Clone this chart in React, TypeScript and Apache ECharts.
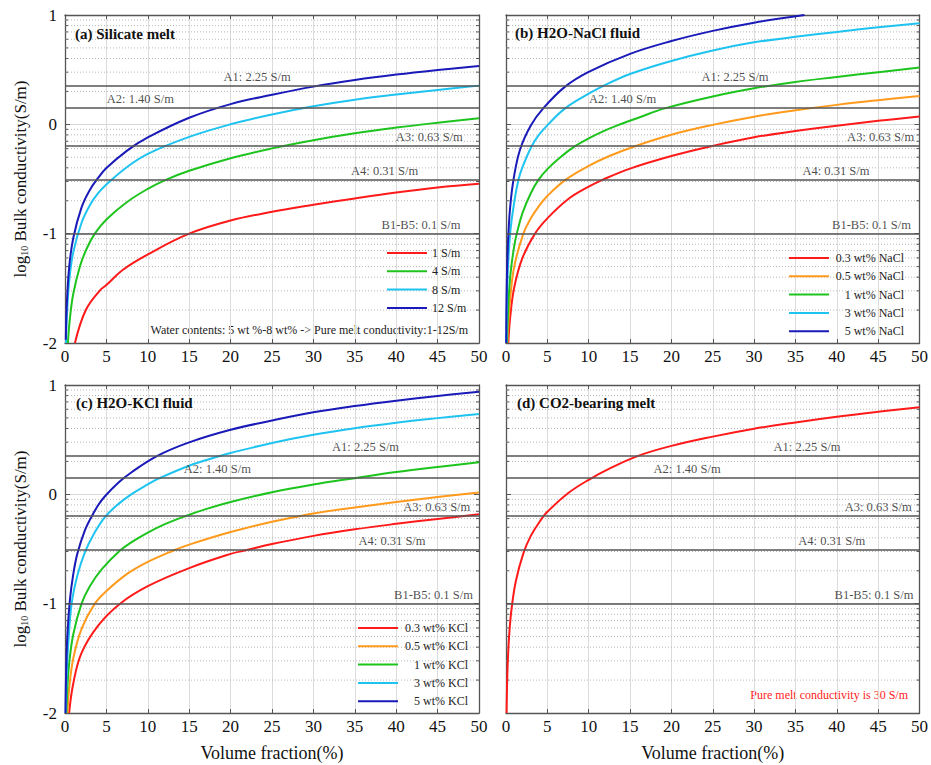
import React, { useEffect, useRef } from 'react';
import * as echarts from 'echarts';

const FONT = "'Liberation Serif', 'Times New Roman', serif";

// ---------- axes ----------
const X_MIN = 0;
const X_MAX = 50;
const X_INTERVAL = 5;
const Y_MIN = -2;
const Y_MAX = 1;
const Y_INTERVAL = 1;

const panelTitles = ['(a) Silicate melt', '(b) H2O-NaCl fluid', '(c) H2O-KCl fluid', '(d) CO2-bearing melt'];
const yAxisName = '{n|log}{s|10}{n| Bulk conductivity(S/m)}';
const xAxisName = 'Volume fraction(%)';

// reference conductivities (S/m) and their labels
const refConductivities = [2.25, 1.4, 0.63, 0.31, 0.1];
const refLabels = ['A1: 2.25 S/m', 'A2: 1.40 S/m', 'A3: 0.63 S/m', 'A4: 0.31 S/m', 'B1-B5: 0.1 S/m'];

// log-style minor ticks of the log10 axis
const minorDecades = [-2, -1, 0];
const minorMultipliers = [2, 3, 4, 5, 6, 7, 8, 9];

// ---------- data: [volume fraction %, log10 bulk conductivity] ----------
// (a) Silicate melt
const silicateNames = ['1 S/m', '4 S/m', '8 S/m', '12 S/m'];
const silicate1 = [[1.2, -2.0], [2.5, -1.7], [4.2, -1.52], [5, -1.47], [7, -1.33], [10, -1.19], [15, -1.0], [20, -0.88], [25, -0.8], [30, -0.736], [35, -0.678], [40, -0.624], [45, -0.578], [50, -0.544]];
const silicate4 = [[0.35, -2.0], [0.6, -1.77], [1, -1.55], [1.8, -1.3], [2.6, -1.14], [3.6, -1.0], [5, -0.87], [7.5, -0.71], [10, -0.59], [12.1, -0.51], [15, -0.425], [20, -0.31], [25, -0.22], [30, -0.145], [35, -0.082], [40, -0.03], [45, 0.015], [50, 0.056]];
const silicate8 = [[0.12, -2.0], [0.2, -1.8], [0.5, -1.44], [1, -1.17], [2, -0.9], [3, -0.74], [4, -0.63], [5, -0.55], [7.5, -0.39], [10, -0.27], [15, -0.115], [20, 0.0], [25, 0.09], [30, 0.165], [35, 0.225], [40, 0.272], [45, 0.315], [50, 0.354]];
const silicate12 = [[0.1, -1.97], [0.2, -1.68], [0.5, -1.31], [1, -1.04], [2, -0.76], [3, -0.6], [4, -0.49], [5, -0.4], [7.5, -0.24], [10, -0.12], [15, 0.06], [20, 0.185], [25, 0.27], [30, 0.345], [35, 0.405], [40, 0.455], [45, 0.497], [50, 0.534]];

// (b) H2O-NaCl fluid
const naclNames = ['0.3 wt% NaCl', '0.5 wt% NaCl', '1 wt% NaCl', '3 wt% NaCl', '5 wt% NaCl'];
const nacl03 = [[0.28, -2.0], [0.5, -1.77], [1, -1.49], [2, -1.22], [3.5, -1.0], [5, -0.86], [7.5, -0.685], [10, -0.57], [11.6, -0.51], [15, -0.405], [20, -0.29], [24.8, -0.2], [30, -0.118], [35, -0.062], [40, -0.012], [45, 0.032], [50, 0.071]];
const nacl05 = [[0.18, -2.0], [0.3, -1.8], [0.5, -1.6], [1, -1.3], [2.1, -1.0], [3, -0.86], [4, -0.745], [5, -0.655], [7.15, -0.51], [10, -0.38], [12.5, -0.29], [15.6, -0.2], [20, -0.095], [25, -0.005], [30, 0.07], [35, 0.128], [40, 0.178], [45, 0.221], [50, 0.26]];
const nacl1 = [[0.12, -2.0], [0.2, -1.8], [0.5, -1.4], [1, -1.11], [1.3, -1.0], [2, -0.81], [3, -0.63], [3.9, -0.51], [5, -0.41], [6.5, -0.305], [8.35, -0.2], [10, -0.128], [12, -0.055], [14, 0.005], [16, 0.06], [19.2, 0.146], [25, 0.255], [30, 0.33], [35, 0.388], [40, 0.433], [45, 0.477], [50, 0.519]];
const nacl3 = [[0.045, -2.0], [0.1, -1.67], [0.2, -1.38], [0.5, -1.0], [1, -0.71], [1.5, -0.51], [2, -0.39], [3.1, -0.2], [4, -0.095], [5.1, 0.0], [7.15, 0.146], [10, 0.28], [11.6, 0.345], [15, 0.46], [20, 0.58], [25, 0.676], [30, 0.75], [35, 0.8], [40, 0.845], [45, 0.887], [50, 0.924]];
const nacl5 = [[0.025, -2.0], [0.05, -1.72], [0.1, -1.44], [0.2, -1.16], [0.3, -0.99], [0.5, -0.76], [0.9, -0.51], [1.7, -0.23], [3, -0.01], [4.5, 0.146], [7.15, 0.345], [10, 0.48], [15, 0.645], [20, 0.762], [25, 0.855], [30, 0.93], [36.1, 1.0]];

// (c) H2O-KCl fluid
const kclNames = ['0.3 wt% KCl', '0.5 wt% KCl', '1 wt% KCl', '3 wt% KCl', '5 wt% KCl'];
const kcl03 = [[0.5, -2.0], [1, -1.73], [2, -1.45], [4, -1.2], [6.65, -1.0], [10, -0.84], [15, -0.675], [20, -0.545], [21.7, -0.514], [25, -0.455], [30, -0.38], [35, -0.32], [40, -0.27], [45, -0.225], [50, -0.182]];
const kcl05 = [[0.3, -2.0], [0.5, -1.78], [1, -1.5], [2, -1.23], [3.6, -1.0], [5, -0.885], [7.5, -0.728], [10, -0.618], [13.1, -0.514], [15, -0.46], [20, -0.345], [25, -0.25], [28, -0.205], [30, -0.175], [35, -0.12], [40, -0.07], [45, -0.025], [50, 0.016]];
const kcl1 = [[0.16, -2.0], [0.3, -1.75], [0.5, -1.55], [1, -1.28], [2, -1.0], [3, -0.84], [4.5, -0.68], [6.65, -0.514], [8, -0.44], [10, -0.35], [12, -0.275], [14.5, -0.2], [17, -0.135], [20, -0.07], [25, 0.02], [30, 0.09], [35, 0.148], [40, 0.204], [45, 0.25], [50, 0.293]];
const kcl3 = [[0.09, -2.0], [0.2, -1.65], [0.4, -1.36], [0.8, -1.0], [1.5, -0.74], [2.4, -0.53], [3.5, -0.36], [4.8, -0.21], [6.5, -0.085], [8, 0.0], [10, 0.092], [11.1, 0.137], [15, 0.262], [18.7, 0.35], [20, 0.378], [25, 0.47], [30, 0.545], [35, 0.605], [40, 0.655], [45, 0.697], [50, 0.735]];
const kcl5 = [[0.06, -2.0], [0.1, -1.76], [0.2, -1.45], [0.3, -1.27], [0.6, -0.96], [1, -0.73], [1.5, -0.54], [2.4, -0.33], [3.1, -0.22], [4, -0.1], [4.8, -0.02], [6.5, 0.11], [8, 0.2], [11.1, 0.35], [15, 0.475], [20, 0.59], [25, 0.675], [30, 0.75], [35, 0.808], [40, 0.857], [45, 0.9], [50, 0.939]];

// (d) CO2-bearing melt
const co2Names = ['30 S/m'];
const co2Melt = [[0.07, -2.0], [0.1, -1.85], [0.2, -1.56], [0.4, -1.27], [0.7, -1.03], [1.2, -0.79], [2.1, -0.54], [3, -0.38], [4.3, -0.225], [5, -0.16], [7.5, 0.01], [10, 0.133], [12.5, 0.235], [15.9, 0.35], [20, 0.443], [25, 0.528], [30, 0.6], [35, 0.658], [40, 0.71], [45, 0.755], [50, 0.796]];

const annotationA = 'Water contents: 5 wt %-8 wt% -> Pure melt conductivity:1-12S/m';
const annotationD = 'Pure melt conductivity is 30 S/m';

// ---------- styles / layout ----------
const RED = '#ff1a1a';
const ORANGE = '#ff9a1c';
const GREEN = '#1ec41e';
const CYAN = '#1ec3f0';
const BLUE = '#1a1ab8';
const AXIS_COLOR = '#555555';

const GRIDS = [
  { left: 65, top: 15, width: 414, height: 328 },
  { left: 506, top: 15, width: 415, height: 328 },
  { left: 65, top: 385, width: 414, height: 328 },
  { left: 506, top: 385, width: 415, height: 328 },
];
const TITLE_POS = [
  { left: 75, top: 26 },
  { left: 515, top: 25 },
  { left: 76, top: 395 },
  { left: 517, top: 395 },
];
// x positions (data units) where the reference labels are centred
const LABEL_X = [
  [23.2, 9.1, 44, 38.6, 43],
  [27.7, 14.1, 45.3, 39.9, 44.2],
  [36.3, 18.4, 44.9, 39.5, 44.5],
  [36.4, 21.9, 45, 39.4, 44.5],
];
const LEGEND_POS: any[] = [
  { left: 387, top: 246, textWidth: 0 },
  { left: 789, top: 251, textWidth: 70 },
  { left: 358, top: 621, textWidth: 65 },
  null,
];

const panels = [
  { names: silicateNames, data: [silicate1, silicate4, silicate8, silicate12], colors: [RED, GREEN, CYAN, BLUE] },
  { names: naclNames, data: [nacl03, nacl05, nacl1, nacl3, nacl5], colors: [RED, ORANGE, GREEN, CYAN, BLUE] },
  { names: kclNames, data: [kcl03, kcl05, kcl1, kcl3, kcl5], colors: [RED, ORANGE, GREEN, CYAN, BLUE] },
  { names: co2Names, data: [co2Melt], colors: [RED] },
];

function buildOption() {
  const refValues = refConductivities.map((c) => Math.log10(c));
  const minorValues: number[] = [];
  minorDecades.forEach((d) => minorMultipliers.forEach((m) => minorValues.push(d + Math.log10(m))));

  const xAxis: any[] = [];
  const yAxis: any[] = [];
  const series: any[] = [];
  const legend: any[] = [];
  const title: any[] = [];

  panels.forEach((p, i) => {
    const bottomRow = i >= 2;
    const leftCol = i % 2 === 0;
    xAxis.push({
      type: 'value', gridIndex: i, min: X_MIN, max: X_MAX, interval: X_INTERVAL, position: 'bottom',
      axisLine: { show: true, onZero: false, lineStyle: { color: AXIS_COLOR, width: 1.3 } },
      axisTick: { show: true, inside: true, length: 4, lineStyle: { color: AXIS_COLOR } },
      axisLabel: { show: true, margin: 5, fontFamily: FONT, fontSize: 17, color: '#111' },
      splitLine: { show: true, lineStyle: { color: '#dcdcdc', width: 1 } },
      name: bottomRow ? xAxisName : '', nameLocation: 'middle', nameGap: 31,
      nameTextStyle: { fontFamily: FONT, fontSize: 18, color: '#111' },
    });
    xAxis.push({
      type: 'value', gridIndex: i, min: X_MIN, max: X_MAX, interval: X_INTERVAL, position: 'top',
      axisLine: { show: true, onZero: false, lineStyle: { color: AXIS_COLOR, width: 1.3 } },
      axisTick: { show: true, inside: true, length: 4, lineStyle: { color: AXIS_COLOR } },
      axisLabel: { show: false }, splitLine: { show: false },
    });
    yAxis.push({
      type: 'value', gridIndex: i, min: Y_MIN, max: Y_MAX, interval: Y_INTERVAL, position: 'left',
      axisLine: { show: true, onZero: false, lineStyle: { color: AXIS_COLOR, width: 1.3 } },
      axisTick: { show: true, inside: true, length: 5, lineStyle: { color: AXIS_COLOR } },
      axisLabel: { show: leftCol, margin: 8, fontFamily: FONT, fontSize: 17, color: '#111' },
      splitLine: { show: true, lineStyle: { color: '#d8d8d8', width: 1 } },
      name: leftCol ? yAxisName : '', nameLocation: 'middle', nameGap: 36, nameRotate: 90,
      nameTextStyle: {
        fontFamily: FONT, fontSize: 17, color: '#111',
        rich: {
          n: { fontFamily: FONT, fontSize: 17, color: '#111', verticalAlign: 'bottom', lineHeight: 20 },
          s: { fontFamily: FONT, fontSize: 10, color: '#111', verticalAlign: 'bottom', lineHeight: 16 },
        },
      },
    });
    yAxis.push({
      type: 'value', gridIndex: i, min: Y_MIN, max: Y_MAX, interval: Y_INTERVAL, position: 'right',
      axisLine: { show: true, onZero: false, lineStyle: { color: AXIS_COLOR, width: 1.3 } },
      axisTick: { show: true, inside: true, length: 5, lineStyle: { color: AXIS_COLOR } },
      axisLabel: { show: false }, splitLine: { show: false },
    });

    // minor log-style gridlines and ticks
    series.push({
      type: 'custom', xAxisIndex: 2 * i, yAxisIndex: 2 * i, silent: true, z: 1,
      data: minorValues.map((v) => [X_MIN, v]),
      encode: { x: 0, y: 1 },
      renderItem: (_params: any, api: any) => {
        const y = api.value(1);
        const a = api.coord([X_MIN, y]);
        const b = api.coord([X_MAX, y]);
        return {
          type: 'group',
          children: [
            { type: 'line', shape: { x1: a[0], y1: a[1], x2: b[0], y2: b[1] }, style: { stroke: '#b8b8b8', lineWidth: 1, lineDash: [1, 2] } },
            { type: 'line', shape: { x1: a[0], y1: a[1], x2: a[0] + 3, y2: a[1] }, style: { stroke: AXIS_COLOR, lineWidth: 1 } },
            { type: 'line', shape: { x1: b[0] - 3, y1: b[1], x2: b[0], y2: b[1] }, style: { stroke: AXIS_COLOR, lineWidth: 1 } },
          ],
        };
      },
    });

    // reference lines and their labels
    series.push({
      type: 'scatter', xAxisIndex: 2 * i, yAxisIndex: 2 * i, silent: true, z: 4,
      symbolSize: 1, itemStyle: { color: 'rgba(0,0,0,0)' },
      data: LABEL_X[i].map((x, k) => ({ value: [x, refValues[k]], name: refLabels[k] })),
      label: { show: true, position: 'top', distance: 2, formatter: '{b}', fontFamily: FONT, fontSize: 12.5, color: '#1a1a1a' },
      markLine: {
        silent: true, symbol: ['none', 'none'], label: { show: false },
        lineStyle: { color: AXIS_COLOR, width: 1.5, type: 'solid' },
        data: refValues.map((v) => ({ yAxis: v })),
      },
    });

    p.data.forEach((d, k) => {
      series.push({
        name: p.names[k], type: 'line', xAxisIndex: 2 * i, yAxisIndex: 2 * i, z: 3,
        data: d, showSymbol: false, symbol: 'none', smooth: 0.4,
        lineStyle: { width: 2, color: p.colors[k] }, itemStyle: { color: p.colors[k] },
      });
    });

    const lp = LEGEND_POS[i];
    if (lp) {
      legend.push({
        data: p.names, left: lp.left, top: lp.top, orient: 'vertical', padding: 0,
        icon: 'rect', itemWidth: 40, itemHeight: 2, itemGap: 4.3, selectedMode: false,
        formatter: lp.textWidth ? '{t|{name}}' : '{name}',
        textStyle: {
          fontFamily: FONT, fontSize: 12, color: '#222', lineHeight: 14,
          rich: { t: { width: lp.textWidth, align: 'right', fontFamily: FONT, fontSize: 12, color: '#222', lineHeight: 14 } },
        },
      });
    }

    title.push({
      text: panelTitles[i], left: TITLE_POS[i].left, top: TITLE_POS[i].top, padding: 0,
      textStyle: { fontFamily: FONT, fontWeight: 'bold', fontSize: 15, color: '#111' },
    });
  });

  return {
    animation: false,
    backgroundColor: '#ffffff',
    grid: GRIDS.map((g) => ({ ...g, containLabel: false })),
    title, legend, xAxis, yAxis, series,
    graphic: [
      { type: 'text', x: 468, y: 330, style: { text: annotationA, fontFamily: FONT, fontSize: 12, fill: '#222', align: 'right', verticalAlign: 'middle' } },
      { type: 'text', x: 908, y: 695, style: { text: annotationD, fontFamily: FONT, fontSize: 12, fill: '#ff1a1a', align: 'right', verticalAlign: 'middle' } },
    ],
  };
}

export default function App() {
  const ref = useRef<HTMLDivElement>(null);
  useEffect(() => {
    if (!ref.current) return;
    const chart = echarts.init(ref.current, null, { renderer: 'svg' });
    chart.setOption(buildOption() as any);
    return () => chart.dispose();
  }, []);
  return <div ref={ref} style={{ position: 'absolute', left: 0, top: 0, width: 931, height: 765, background: '#fff' }} />;
}
